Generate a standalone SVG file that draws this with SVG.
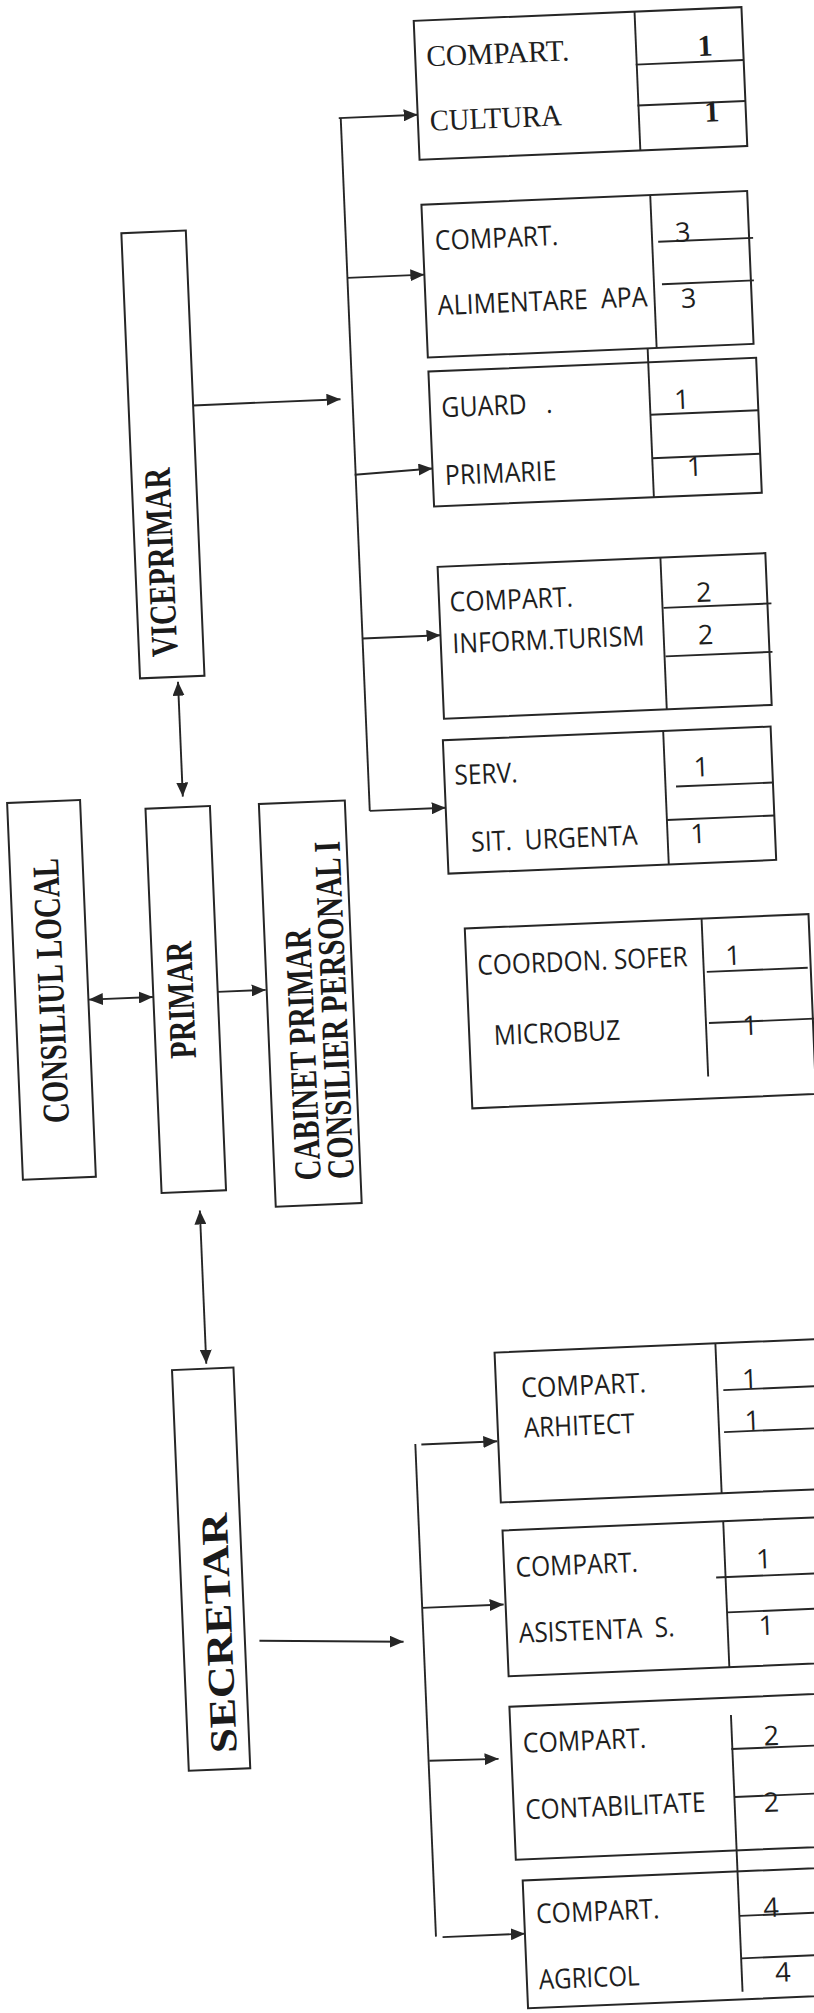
<svg xmlns="http://www.w3.org/2000/svg" width="814" height="2013" viewBox="0 0 814 2013">
<style>
.box{fill:none;stroke:#262626;stroke-width:2}
.ln{fill:none;stroke:#262626;stroke-width:1.9}
.sans{font-family:"Open Sans","Liberation Sans",sans-serif;font-size:27.5px;fill:#1e1e1e}
.dig{font-family:"Open Sans","Liberation Sans",sans-serif;font-size:27px;fill:#1e1e1e;text-anchor:middle}
.ser{font-family:"Liberation Serif","Times New Roman",serif;font-size:30px;fill:#1e1e1e}
.serb{font-family:"Liberation Serif","Times New Roman",serif;font-size:30px;font-weight:bold;fill:#1e1e1e;text-anchor:middle}
.lab{font-family:"Liberation Serif","Times New Roman",serif;font-size:38px;font-weight:bold;fill:#1a1a1a}
</style>
<defs>
<marker id="ah" markerUnits="userSpaceOnUse" markerWidth="14" markerHeight="12" refX="14" refY="6" orient="auto-start-reverse">
<path d="M0,0 L14,6 L0,12 z" fill="#262626"/>
</marker>
</defs>
<rect width="814" height="2013" fill="#ffffff"/>
<g transform="rotate(-2.4 407 1006.7)">
<g id="connectors">
<line class="ln" x1="378" y1="116" x2="378" y2="809.5"/>
<line class="ln" x1="376" y1="116" x2="455" y2="116" marker-end="url(#ah)"/>
<line class="ln" x1="378" y1="276" x2="455" y2="276" marker-end="url(#ah)"/>
<line class="ln" x1="377" y1="473" x2="455" y2="470" marker-end="url(#ah)"/>
<line class="ln" x1="378" y1="637" x2="456" y2="637" marker-end="url(#ah)"/>
<line class="ln" x1="378" y1="809.5" x2="454" y2="809.5" marker-end="url(#ah)"/>
<line class="ln" x1="218.5" y1="397" x2="366" y2="397" marker-end="url(#ah)"/>
<line class="ln" x1="191.8" y1="672.4" x2="191.8" y2="787.4" marker-start="url(#ah)" marker-end="url(#ah)"/>
<line class="ln" x1="89.5" y1="986.3" x2="153.5" y2="986.3" marker-start="url(#ah)" marker-end="url(#ah)"/>
<line class="ln" x1="218.5" y1="984" x2="266.5" y2="984" marker-end="url(#ah)"/>
<line class="ln" x1="191.5" y1="1201.6" x2="191.5" y2="1355" marker-start="url(#ah)" marker-end="url(#ah)"/>
<line class="ln" x1="233" y1="1634" x2="377" y2="1641" marker-end="url(#ah)"/>
<line class="ln" x1="397" y1="1444" x2="397" y2="1937"/>
<line class="ln" x1="403" y1="1444.7" x2="479" y2="1444.7" marker-end="url(#ah)"/>
<line class="ln" x1="397" y1="1608" x2="478.5" y2="1608" marker-end="url(#ah)"/>
<line class="ln" x1="397.7" y1="1761" x2="467" y2="1762" marker-end="url(#ah)"/>
<line class="ln" x1="403.6" y1="1937.8" x2="486" y2="1937.8" marker-end="url(#ah)"/>
</g>
<g id="consiliul-local">
<rect class="box" x="16" y="786.5" width="73" height="377"/>
<text class="lab" transform="translate(64.4,975.8) rotate(-90)" text-anchor="middle" textLength="265" lengthAdjust="spacingAndGlyphs">CONSILIUL LOCAL</text>
</g>
<g id="viceprimar">
<rect class="box" x="154" y="222" width="64.5" height="445.5"/>
<text class="lab" transform="translate(192.3,552.5) rotate(-90)" text-anchor="middle" textLength="189" lengthAdjust="spacingAndGlyphs">VICEPRIMAR</text>
</g>
<g id="primar">
<rect class="box" x="154" y="798" width="64.5" height="384.5"/>
<text class="lab" transform="translate(194,990.5) rotate(-90)" text-anchor="middle" textLength="117" lengthAdjust="spacingAndGlyphs">PRIMAR</text>
</g>
<g id="cabinet">
<rect class="box" x="267.5" y="798" width="86" height="403"/>
<text class="lab" transform="translate(313.5,1176) rotate(-90)" textLength="252" lengthAdjust="spacingAndGlyphs">CABINET PRIMAR</text>
<text class="lab" transform="translate(346.5,1176) rotate(-90)" textLength="338" lengthAdjust="spacingAndGlyphs">CONSILIER PERSONAL I</text>
</g>
<g id="secretar">
<rect class="box" x="157" y="1360" width="61.5" height="401"/>
<text class="lab" transform="translate(205.6,1624.6) rotate(-90)" text-anchor="middle" textLength="240" lengthAdjust="spacingAndGlyphs">SECRETAR</text>
</g>
<g id="comp-cultura">
<rect class="box" x="455" y="22" width="328" height="139"/>
<line class="ln" x1="676" y1="22" x2="676" y2="161"/>
<line class="ln" x1="675" y1="75" x2="783" y2="75"/>
<line class="ln" x1="675" y1="116" x2="783" y2="116"/>
<text class="ser" x="466" y="68" textLength="143" lengthAdjust="spacingAndGlyphs">COMPART.</text>
<text class="ser" x="467" y="132.5" textLength="131.7" lengthAdjust="spacingAndGlyphs">CULTURA</text>
<text class="serb" x="745" y="69">1</text>
<text class="serb" x="749" y="135">1</text>
</g>
<g id="comp-alimentare">
<rect class="box" x="455" y="206" width="326" height="153"/>
<line class="ln" x1="684" y1="206" x2="684" y2="359"/>
<line class="ln" x1="690" y1="253" x2="785" y2="253"/>
<line class="ln" x1="692" y1="295.5" x2="784" y2="295.5"/>
<text class="sans" x="467" y="252" textLength="123.3" lengthAdjust="spacingAndGlyphs">COMPART.</text>
<text class="sans" x="467" y="317" xml:space="preserve" textLength="210" lengthAdjust="spacingAndGlyphs">ALIMENTARE  APA</text>
<text class="dig" x="715" y="254">3</text>
<text class="dig" x="718" y="320">3</text>
</g>
<g id="guard">
<rect class="box" x="455" y="373" width="328" height="135"/>
<line class="ln" x1="675" y1="359" x2="675" y2="508"/>
<line class="ln" x1="675" y1="425.5" x2="783" y2="425.5"/>
<line class="ln" x1="675" y1="469" x2="783" y2="469"/>
<text class="sans" x="466.5" y="419.3" xml:space="preserve" textLength="111" lengthAdjust="spacingAndGlyphs">GUARD   .</text>
<text class="sans" x="467" y="487" textLength="111.7" lengthAdjust="spacingAndGlyphs">PRIMARIE</text>
<text class="dig" x="707" y="421">1</text>
<text class="dig" x="717" y="488.5">1</text>
</g>
<g id="comp-inform">
<rect class="box" x="456" y="568.5" width="328" height="152"/>
<line class="ln" x1="679" y1="568.5" x2="679" y2="720.5"/>
<line class="ln" x1="680" y1="619" x2="788" y2="619"/>
<line class="ln" x1="680" y1="667.5" x2="787" y2="667.5"/>
<text class="sans" x="466.6" y="613.8" textLength="123.3" lengthAdjust="spacingAndGlyphs">COMPART.</text>
<text class="sans" x="467.5" y="655.5" textLength="192.3" lengthAdjust="spacingAndGlyphs">INFORM.TURISM</text>
<text class="dig" x="721" y="614.5">2</text>
<text class="dig" x="721" y="657">2</text>
</g>
<g id="serv-urgenta">
<rect class="box" x="454" y="742" width="328" height="133.5"/>
<line class="ln" x1="674.5" y1="742" x2="674.5" y2="875.5"/>
<line class="ln" x1="685" y1="798" x2="782" y2="798"/>
<line class="ln" x1="674.5" y1="831" x2="782" y2="831"/>
<text class="sans" x="464" y="787" textLength="63.3" lengthAdjust="spacingAndGlyphs">SERV.</text>
<text class="sans" x="478" y="854.5" xml:space="preserve" textLength="166.6" lengthAdjust="spacingAndGlyphs">SIT.  URGENTA</text>
<text class="dig" x="711" y="789">1</text>
<text class="dig" x="705" y="855.5">1</text>
</g>
<g id="coordon">
<rect class="box" x="468" y="931" width="344" height="180"/>
<line class="ln" x1="705" y1="931" x2="705" y2="1089"/>
<line class="ln" x1="708" y1="984.5" x2="809" y2="984.5"/>
<line class="ln" x1="708" y1="1035.7" x2="814" y2="1035.7"/>
<text class="sans" x="479" y="978" textLength="210.3" lengthAdjust="spacingAndGlyphs">COORDON. SOFER</text>
<text class="sans" x="492.7" y="1048.6" textLength="126.2" lengthAdjust="spacingAndGlyphs">MICROBUZ</text>
<text class="dig" x="735" y="978.7">1</text>
<text class="dig" x="749" y="1049.4">1</text>
</g>
<g id="comp-arhitect">
<rect class="box" x="480" y="1356" width="360" height="150"/>
<line class="ln" x1="701" y1="1356" x2="701" y2="1506"/>
<line class="ln" x1="707" y1="1403" x2="840" y2="1403"/>
<line class="ln" x1="706" y1="1445" x2="840" y2="1445"/>
<text class="sans" x="505" y="1402" textLength="125" lengthAdjust="spacingAndGlyphs">COMPART.</text>
<text class="sans" x="506" y="1442" textLength="111" lengthAdjust="spacingAndGlyphs">ARHITECT</text>
<text class="dig" x="734" y="1402.5">1</text>
<text class="dig" x="734.6" y="1444">1</text>
</g>
<g id="comp-asistenta">
<rect class="box" x="480.5" y="1534" width="360" height="146"/>
<line class="ln" x1="701.4" y1="1534" x2="701.4" y2="1680"/>
<line class="ln" x1="692" y1="1590" x2="840" y2="1590"/>
<line class="ln" x1="702" y1="1625.3" x2="840" y2="1625.3"/>
<text class="sans" x="492" y="1581" textLength="122.3" lengthAdjust="spacingAndGlyphs">COMPART.</text>
<text class="sans" x="492.5" y="1647" xml:space="preserve" textLength="155.7" lengthAdjust="spacingAndGlyphs">ASISTENTA  S.</text>
<text class="dig" x="740.4" y="1582.8">1</text>
<text class="dig" x="740" y="1649.5">1</text>
</g>
<g id="comp-contabilitate">
<rect class="box" x="480" y="1710.5" width="360" height="153"/>
<line class="ln" x1="701" y1="1728" x2="701" y2="2005"/>
<line class="ln" x1="700" y1="1762" x2="840" y2="1762"/>
<line class="ln" x1="701.5" y1="1810" x2="840" y2="1810"/>
<text class="sans" x="492" y="1757" textLength="123.4" lengthAdjust="spacingAndGlyphs">COMPART.</text>
<text class="sans" x="491.5" y="1823.6" textLength="180.3" lengthAdjust="spacingAndGlyphs">CONTABILITATE</text>
<text class="dig" x="740.4" y="1759.7">2</text>
<text class="dig" x="737.6" y="1826.3">2</text>
</g>
<g id="comp-agricol">
<rect class="box" x="486" y="1884.5" width="360" height="128"/>
<line class="ln" x1="701.6" y1="1929" x2="840" y2="1929"/>
<line class="ln" x1="701.4" y1="1971.5" x2="840" y2="1971.5"/>
<text class="sans" x="498" y="1928" textLength="123.3" lengthAdjust="spacingAndGlyphs">COMPART.</text>
<text class="sans" x="498" y="1994" textLength="100.7" lengthAdjust="spacingAndGlyphs">AGRICOL</text>
<text class="dig" x="733" y="1931.5">4</text>
<text class="dig" x="742" y="1996.6">4</text>
</g>
</g>
</svg>
